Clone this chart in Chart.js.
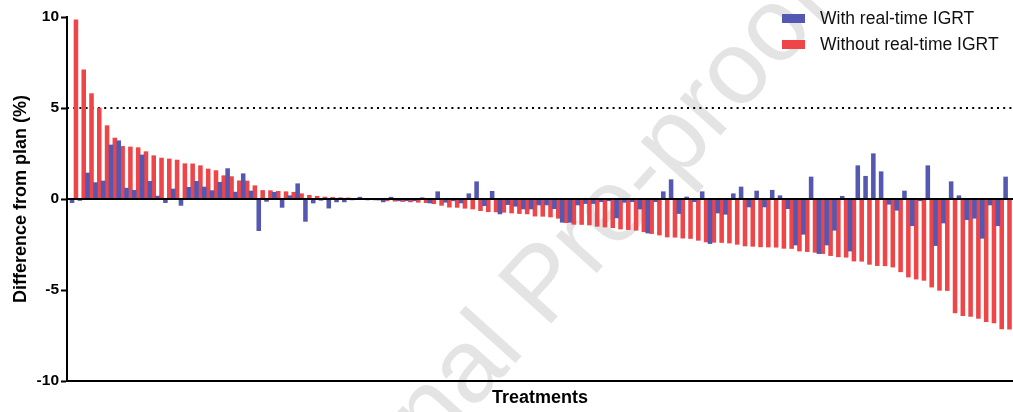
<!DOCTYPE html>
<html>
<head>
<meta charset="utf-8">
<title>Difference from plan</title>
<script src="https://cdn.jsdelivr.net/npm/chart.js@4.4.1/dist/chart.umd.min.js"></script>
<style>
  html, body { margin: 0; padding: 0; background: #fff; }
  #wrap { position: relative; width: 1013px; height: 412px; overflow: hidden; font-family: 'Liberation Sans', Arial, sans-serif; }
  #mark { position: absolute; left: 540px; top: 282px; transform: translate(-50%, -50%) rotate(-48deg); font-size: 104px; color: #e4e4e4; white-space: nowrap; line-height: 1; }
  #chart { position: absolute; left: 0; top: 0; }
  .legend { position: absolute; left: 782px; top: 5.5px; font-size: 17.5px; color: #111; }
  .legend .row { display: flex; align-items: center; height: 26px; }
  .legend .box { width: 23px; height: 9px; margin-right: 15px; }
</style>
</head>
<body>
<div id="wrap">
  <div id="mark">Journal Pre-proof</div>
  <canvas id="chart" width="1013" height="412"></canvas>
  <div class="legend">
    <div class="row"><span class="box" style="background:#5558b0"></span>With real-time IGRT</div>
    <div class="row"><span class="box" style="background:#ee4548"></span>Without real-time IGRT</div>
  </div>
</div>
<script>
// one value per treatment, ordered by the "without" difference
const withIGRT = [
  -0.2, -0.08, 1.43, 0.9, 0.99, 2.97, 3.2, 0.6, 0.48, 2.42,
  0.97, 0.16, -0.2, 0.55, -0.35, 0.64, 0.97, 0.66, 0.46, 0.92,
  1.67, 0.38, 1.39, 0.44, -1.74, -0.13, 0.37, -0.46, 0.18, 0.84,
  -1.23, -0.22, -0.07, -0.5, -0.16, -0.16, -0.05, 0.1, -0.05, -0.05,
  -0.16, 0.1, -0.1, -0.1, -0.1, 0.07, -0.22, 0.4, -0.18, -0.1,
  -0.22, 0.29, 0.95, -0.37, 0.42, -0.82, -0.31, -0.4, -0.55, -0.55,
  -0.33, -0.33, -0.53, -1.28, -1.28, -0.33, -0.25, -0.25, -0.15, -0.1,
  -1.04, -0.18, -0.15, -0.55, -1.87, -0.15, 0.4, 1.06, -0.8, 0.11,
  -0.15, 0.4, -2.45, -0.77, -0.84, 0.29, 0.66, -0.44, 0.44, -0.44,
  0.48, 0.18, -0.53, -2.53, -1.94, 1.21, -3.0, -2.53, -1.72, 0.15,
  -2.86, 1.83, 1.25, 2.49, 1.5, -0.29, -0.62, 0.44, -1.47, -0.1,
  1.83, -2.56, -1.32, 0.95, 0.18, -1.14, -1.06, -2.16, -0.33, -1.47,
  1.21
];

const withoutIGRT = [
  9.85, 7.1, 5.79, 5.0, 4.03, 3.35, 2.89, 2.86, 2.82, 2.6,
  2.38, 2.25, 2.2, 2.14, 1.94, 1.93, 1.83, 1.65, 1.56, 1.28,
  1.23, 1.0, 0.99, 0.73, 0.47, 0.46, 0.42, 0.4, 0.37, 0.29,
  0.2, 0.15, 0.11, 0.09, 0.07, 0.06, 0.04, 0.02, -0.03, -0.06,
  -0.1, -0.12, -0.14, -0.16, -0.18, -0.2, -0.26, -0.35, -0.45, -0.46,
  -0.51, -0.55, -0.64, -0.7, -0.71, -0.73, -0.77, -0.8, -0.82, -0.94,
  -0.95, -0.99, -1.06, -1.3, -1.39, -1.4, -1.43, -1.5, -1.54, -1.58,
  -1.65, -1.68, -1.72, -1.8, -1.9, -1.98, -2.09, -2.1, -2.15, -2.17,
  -2.27, -2.36, -2.38, -2.39, -2.42, -2.49, -2.58, -2.6, -2.63, -2.64,
  -2.65, -2.71, -2.72, -2.86, -2.89, -2.93, -3.0, -3.11, -3.18, -3.2,
  -3.41, -3.42, -3.59, -3.66, -3.67, -3.74, -4.0, -4.29, -4.4, -4.47,
  -4.84, -5.02, -5.03, -6.26, -6.41, -6.45, -6.56, -6.74, -6.81, -7.14,
  -7.15
];

const seriesNames = ['With real-time IGRT', 'Without real-time IGRT'];
const yTicks = [-10, -5, 0, 5, 10];
const threshold = 5;

const FONT = "'Liberation Sans', Arial, sans-serif";

// zero line over the bars, dotted threshold under them
const refLines = {
  id: 'refLines',
  beforeDatasetsDraw(chart) {
    const { ctx, chartArea, scales } = chart;
    const y = Math.round(scales.y.getPixelForValue(threshold));
    ctx.save();
    ctx.strokeStyle = '#000';
    ctx.lineWidth = 2;
    ctx.setLineDash([2, 4.2]);
    ctx.beginPath();
    ctx.moveTo(chartArea.left, y);
    ctx.lineTo(chartArea.right, y);
    ctx.stroke();
    ctx.restore();
  },
  afterDatasetsDraw(chart) {
    const { ctx, chartArea, scales } = chart;
    const y = scales.y.getPixelForValue(0);
    ctx.save();
    ctx.strokeStyle = '#000';
    ctx.lineWidth = 2.2;
    ctx.beginPath();
    ctx.moveTo(chartArea.left, y);
    ctx.lineTo(chartArea.right, y);
    ctx.stroke();
    ctx.restore();
  }
};

new Chart(document.getElementById('chart'), {
  type: 'bar',
  data: {
    datasets: [
      {
        label: seriesNames[0],
        data: withIGRT.map((v, i) => ({ x: i, y: v })),
        backgroundColor: '#5558b0',
        borderWidth: 0,
        barThickness: 3.9
      },
      {
        label: seriesNames[1],
        data: withoutIGRT.map((v, i) => ({ x: i, y: v })),
        backgroundColor: '#ee4548',
        borderWidth: 0,
        barThickness: 3.9
      }
    ]
  },
  options: {
    responsive: false,
    animation: false,
    layout: { padding: { top: 17, right: 0, left: 0, bottom: 0 } },
    plugins: {
      legend: { display: false },
      tooltip: { enabled: false }
    },
    scales: {
      x: {
        type: 'linear',
        offset: false,
        min: -0.9,
        max: 120.7,
        grid: { display: false, offset: false },
        border: { display: true, color: '#000', width: 2 },
        ticks: { display: false },
        title: {
          display: true,
          text: 'Treatments',
          color: '#000',
          font: { family: FONT, size: 18, weight: 'bold' },
          padding: { top: 0, bottom: 3 }
        },
        afterFit(scale) { scale.height = 31; }
      },
      y: {
        min: -10,
        max: 10,
        afterBuildTicks(scale) { scale.ticks = yTicks.map(v => ({ value: v })); },
        grid: {
          drawOnChartArea: false,
          tickColor: '#000',
          tickWidth: 2,
          tickLength: 6
        },
        border: { display: true, color: '#000', width: 2 },
        ticks: {
          color: '#000',
          padding: 2,
          font: { family: FONT, size: 15.5, weight: 'bold' }
        },
        title: {
          display: true,
          text: 'Difference from plan (%)',
          color: '#000',
          font: { family: FONT, size: 18, weight: 'bold' },
          padding: { top: 10, bottom: 0 }
        },
        afterFit(scale) { scale.width = 67; }
      }
    }
  },
  plugins: [refLines]
});
</script>
</body>
</html>
